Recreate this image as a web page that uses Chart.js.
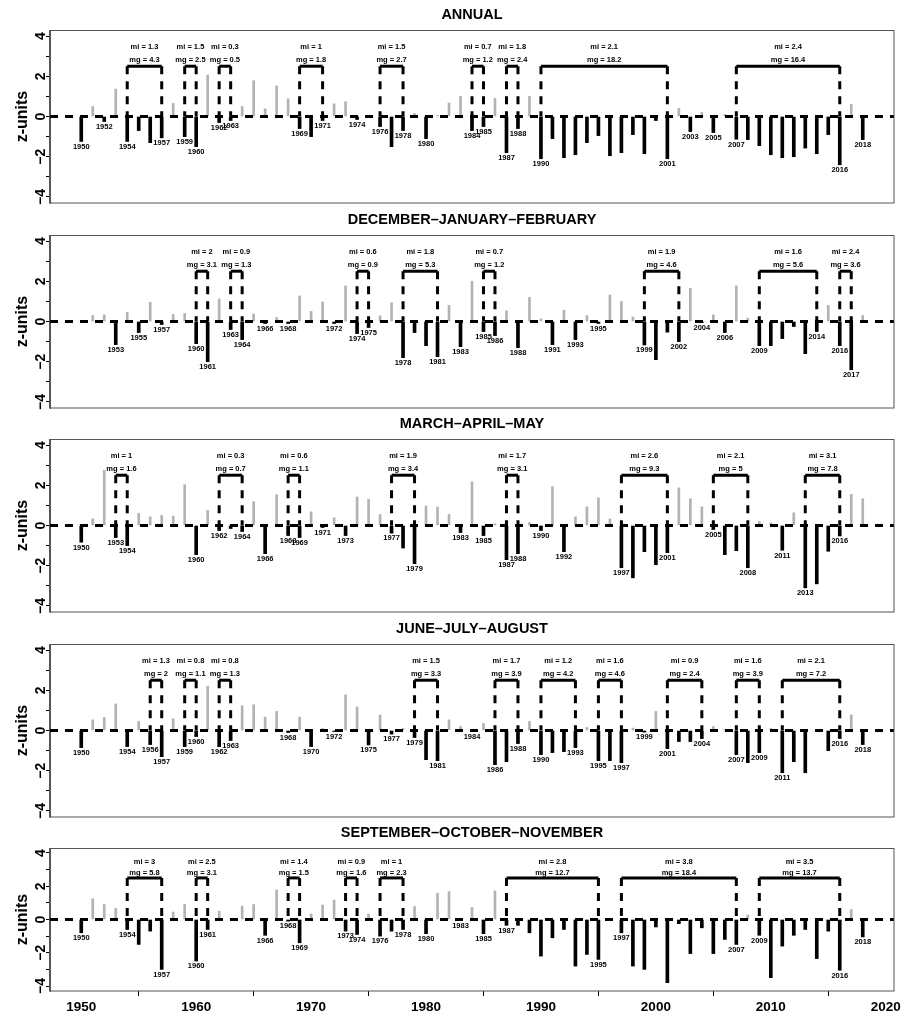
<!DOCTYPE html>
<html>
<head>
<meta charset="utf-8">
<title>Drought events z-units</title>
<script src="https://cdn.jsdelivr.net/npm/chart.js"></script>
<style>
  body { margin: 0; background: #fff; }
  #wrap { position: relative; width: 905px; height: 1017px; }
  .panel { position: absolute; left: 0; }
</style>
</head>
<body>
<div id="wrap">
  <div class="panel" style="top:0px"><canvas id="c0" width="905" height="205"></canvas></div>
  <div class="panel" style="top:205px"><canvas id="c1" width="905" height="205"></canvas></div>
  <div class="panel" style="top:409px"><canvas id="c2" width="905" height="205"></canvas></div>
  <div class="panel" style="top:614px"><canvas id="c3" width="905" height="205"></canvas></div>
  <div class="panel" style="top:818px"><canvas id="c4" width="905" height="199"></canvas></div>
</div>
<script>
// years of record
const years = [1950, 1951, 1952, 1953, 1954, 1955, 1956, 1957, 1958, 1959,
  1960, 1961, 1962, 1963, 1964, 1965, 1966, 1967, 1968, 1969,
  1970, 1971, 1972, 1973, 1974, 1975, 1976, 1977, 1978, 1979,
  1980, 1981, 1982, 1983, 1984, 1985, 1986, 1987, 1988, 1989,
  1990, 1991, 1992, 1993, 1994, 1995, 1996, 1997, 1998, 1999,
  2000, 2001, 2002, 2003, 2004, 2005, 2006, 2007, 2008, 2009,
  2010, 2011, 2012, 2013, 2014, 2015, 2016, 2017, 2018];

// z-unit values per season (one per year above)
const annual = [-1.24, 0.5, -0.25, 1.36, -1.24, -0.7, -1.3, -1.06, 0.65, -1.0,
  -1.5, 2.06, -0.3, -0.2, 0.5, 1.78, 0.38, 1.52, 0.88, -0.6,
  -1.0, -0.2, 0.63, 0.73, -0.15, 0.05, -0.5, -1.5, -0.7, 0.15,
  -1.1, 0.05, 0.67, 1.0, -0.7, -0.5, 0.9, -1.8, -0.6, 1.0,
  -2.1, -1.1, -2.05, -1.9, -1.3, -0.95, -1.95, -1.8, -0.9, -1.85,
  -0.2, -2.1, 0.4, -0.75, 0.2, -0.8, 0.1, -1.13, -1.15, -1.45,
  -1.9, -2.05, -2.0, -1.57, -1.85, -0.9, -2.4, 0.6, -1.15];

const djf = [0.05, 0.3, 0.33, -1.15, 0.46, -0.55, 0.95, -0.15, 0.35, 0.4,
  -1.1, -2.0, 1.12, -0.4, -0.9, 0.37, -0.1, 0.2, -0.1, 1.27,
  0.5, 0.97, -0.1, 1.77, -0.6, -0.3, 0.28, 0.93, -1.8, -0.55,
  -1.2, -1.75, 0.8, -1.25, 2.0, -0.5, -0.7, 0.53, -1.3, 1.2,
  0.13, -1.15, 0.56, -0.9, 0.3, -0.1, 1.32, 1.0, 0.23, -1.17,
  -1.9, -0.53, -1.0, 1.65, -0.05, 0.33, -0.55, 1.77, 0.17, -1.2,
  -1.2, -0.85, -0.25, -1.6, -0.5, 0.8, -1.2, -2.4, 0.3];

const mam = [-0.83, 0.33, 2.75, -0.6, -1.0, 0.6, 0.43, 0.5, 0.47, 2.03,
  -1.45, 0.75, -0.25, -0.15, -0.3, 1.18, -1.4, 1.53, -0.5, -0.6,
  0.68, -0.1, 0.38, -0.5, 1.42, 1.3, 0.55, -0.38, -1.12, -1.9,
  0.97, 0.92, 0.55, -0.35, 2.17, -0.5, 0.08, -1.7, -1.4, 0.15,
  -0.25, 1.93, -1.3, 0.43, 0.93, 1.37, 0.33, -2.1, -2.6, -1.3,
  -1.95, -1.35, 1.87, 1.33, 0.93, -0.2, -1.45, -1.25, -2.1, 0.2,
  0.13, -1.23, 0.63, -3.1, -2.9, -1.28, -0.52, 1.55, 1.33];

const jja = [-0.85, 0.53, 0.65, 1.32, -0.8, 0.45, -0.7, -1.3, 0.58, -0.8,
  -0.3, 2.2, -0.8, -0.5, 1.23, 1.28, 0.67, 0.95, -0.1, 0.67,
  -0.8, 0.1, -0.05, 1.77, 1.17, -0.72, 0.77, -0.18, 0.1, -0.35,
  -1.45, -1.5, 0.53, 0.2, -0.05, 0.35, -1.7, -1.55, -0.65, 0.45,
  -1.2, -1.1, -1.05, -0.85, 0.15, -1.5, -1.5, -1.6, 0.12, -0.08,
  0.95, -0.9, -0.55, -0.55, -0.4, 0.2, 0.05, -1.2, -1.6, -1.1,
  0.1, -2.1, -1.55, -2.1, -0.05, -1.0, -0.4, 0.78, -0.7];

const son = [-0.8, 1.25, 0.9, 0.67, -0.6, -1.5, -0.7, -3.0, 0.45, 0.92,
  -2.5, -0.6, 0.5, 0.05, 0.8, 0.9, -0.95, 1.78, -0.1, -1.4,
  0.33, 0.87, 1.17, -0.7, -0.9, 0.33, -1.0, -0.7, -0.6, 0.78,
  -0.85, 1.58, 1.68, -0.05, 0.73, -0.85, 1.72, -0.35, -0.35, -0.8,
  -2.2, -1.1, -0.6, -2.8, -2.1, -2.4, 0, -0.8, -2.8, -3.0,
  -0.45, -3.8, -0.25, -2.05, -0.5, -2.05, -1.2, -1.5, 0.27, -0.95,
  -3.5, -1.6, -0.95, -0.6, -2.35, -0.7, -3.05, 0.6, -1.05];

// years written under the bars
const annualLabels = [1950, 1952, 1954, 1957, 1959, 1960, 1962, 1963, 1969, 1971, 1974, 1976, 1978, 1980,
  1984, 1985, 1987, 1988, 1990, 2001, 2003, 2005, 2007, 2016, 2018];
const djfLabels = [1953, 1955, 1957, 1960, 1961, 1963, 1964, 1966, 1968, 1972, 1974, 1975, 1978, 1981,
  1983, 1985, 1986, 1988, 1991, 1993, 1995, 1999, 2002, 2004, 2006, 2009, 2014, 2016, 2017];
const mamLabels = [1950, 1953, 1954, 1960, 1962, 1964, 1966, 1968, 1969, 1971, 1973, 1977, 1979, 1983,
  1985, 1987, 1988, 1990, 1992, 1997, 2001, 2005, 2008, 2011, 2013, 2016];
const jjaLabels = [1950, 1954, 1956, 1957, 1959, 1960, 1962, 1963, 1968, 1970, 1972, 1975, 1977, 1979,
  1981, 1984, 1986, 1988, 1990, 1993, 1995, 1997, 1999, 2001, 2004, 2007, 2009, 2011, 2016, 2018];
const sonLabels = [1950, 1954, 1957, 1960, 1961, 1966, 1968, 1969, 1973, 1974, 1976, 1978, 1980, 1983,
  1985, 1987, 1995, 1997, 2007, 2009, 2016, 2018];

// drought events: [first year, last year, mi, mg]
const annualEvents = [[1954, 1957, 1.3, 4.3], [1959, 1960, 1.5, 2.5], [1962, 1963, 0.3, 0.5],
  [1969, 1971, 1, 1.8], [1976, 1978, 1.5, 2.7], [1984, 1985, 0.7, 1.2], [1987, 1988, 1.8, 2.4],
  [1990, 2001, 2.1, 18.2], [2007, 2016, 2.4, 16.4]];
const djfEvents = [[1960, 1961, 2, 3.1], [1963, 1964, 0.9, 1.3], [1974, 1975, 0.6, 0.9],
  [1978, 1981, 1.8, 5.3], [1985, 1986, 0.7, 1.2], [1999, 2002, 1.9, 4.6], [2009, 2014, 1.6, 5.6],
  [2016, 2017, 2.4, 3.6]];
const mamEvents = [[1953, 1954, 1, 1.6], [1962, 1964, 0.3, 0.7], [1968, 1969, 0.6, 1.1],
  [1977, 1979, 1.9, 3.4], [1987, 1988, 1.7, 3.1], [1997, 2001, 2.6, 9.3], [2005, 2008, 2.1, 5],
  [2013, 2016, 3.1, 7.8]];
const jjaEvents = [[1956, 1957, 1.3, 2], [1959, 1960, 0.8, 1.1], [1962, 1963, 0.8, 1.3],
  [1979, 1981, 1.5, 3.3], [1986, 1988, 1.7, 3.9], [1990, 1993, 1.2, 4.2], [1995, 1997, 1.6, 4.6],
  [2001, 2004, 0.9, 2.4], [2007, 2009, 1.6, 3.9], [2011, 2016, 2.1, 7.2]];
const sonEvents = [[1954, 1957, 3, 5.8], [1960, 1961, 2.5, 3.1], [1968, 1969, 1.4, 1.5],
  [1973, 1974, 0.9, 1.6], [1976, 1978, 1, 2.3], [1987, 1995, 2.8, 12.7], [1997, 2007, 3.8, 18.4],
  [2009, 2016, 3.5, 13.7]];

const yTicks = [-4, -3, -2, -1, 0, 1, 2, 3, 4];
const xTicks = [1950, 1960, 1970, 1980, 1990, 2000, 2010, 2020];

const panels = [
  { title: 'ANNUAL', values: annual, labels: annualLabels, events: annualEvents },
  { title: 'DECEMBER\u2013JANUARY\u2013FEBRUARY', values: djf, labels: djfLabels, events: djfEvents },
  { title: 'MARCH\u2013APRIL\u2013MAY', values: mam, labels: mamLabels, events: mamEvents },
  { title: 'JUNE\u2013JULY\u2013AUGUST', values: jja, labels: jjaLabels, events: jjaEvents },
  { title: 'SEPTEMBER\u2013OCTOBER\u2013NOVEMBER', values: son, labels: sonLabels, events: sonEvents }
];

const FONT = "'Liberation Sans', Arial, Helvetica, sans-serif";
const X_MIN = 1947.28, X_MAX = 2020.72;
const BRACKET_Y = 2.5, MI_Y = 3.45, MG_Y = 2.8;
const DASH = [8, 7];

function makeTextPlugin(p) {
    return {
        id: 'panelText',
        afterDraw(chart) {
            const { ctx, chartArea: a, scales: { x, y } } = chart;
            ctx.save();
            // plot box
            ctx.strokeStyle = '#555';
            ctx.lineWidth = 1;
            ctx.strokeRect(Math.round(a.left) - 0.5, Math.round(a.top) + 0.5,
                Math.round(a.right - a.left) + 0.5, Math.round(a.bottom - a.top) - 0.5);

            // title
            ctx.fillStyle = '#000';
            ctx.font = 'bold 14.5px ' + FONT;
            ctx.textAlign = 'center';
            ctx.textBaseline = 'middle';
            ctx.fillText(p.title, (a.left + a.right) / 2, 15);

            // year labels below bars
            ctx.font = 'bold 7.5px ' + FONT;
            ctx.textBaseline = 'top';
            p.labels.forEach(yr => {
                const v = p.values[years.indexOf(yr)];
                ctx.fillText(String(yr), x.getPixelForValue(yr), y.getPixelForValue(v) + 1.5);
            });

            // event annotations
            ctx.textBaseline = 'middle';
            p.events.forEach(ev => {
                const cx = x.getPixelForValue((ev[0] + ev[1]) / 2);
                ctx.fillText('mi = ' + ev[2], cx, y.getPixelForValue(MI_Y));
                ctx.fillText('mg = ' + ev[3], cx, y.getPixelForValue(MG_Y));
            });
            ctx.restore();
        }
    };
}

function buildChart(canvasId, p, isLast) {
    const neg = [], pos = [];
    years.forEach((yr, i) => {
        const v = p.values[i];
        if (v < 0) neg.push({ x: yr, y: v });
        else if (v > 0) pos.push({ x: yr, y: v });
    });

    const datasets = [
        { type: 'bar', data: pos, backgroundColor: '#b3b3b3', barThickness: 2, grouped: false, order: 6 },
        { type: 'bar', data: neg, backgroundColor: '#000', barThickness: 3, grouped: false, order: 5 },
        {
            type: 'line', data: [{ x: X_MIN, y: 0 }, { x: X_MAX, y: 0 }],
            borderColor: '#000', borderWidth: 3, borderDash: DASH, pointRadius: 0, order: 4
        }
    ];

    p.events.forEach(ev => {
        // dashed legs, drawn from the bracket down to zero
        datasets.push({
            type: 'line',
            data: [{ x: ev[0], y: BRACKET_Y }, { x: ev[0], y: 0 }, { x: (ev[0] + ev[1]) / 2, y: null },
                   { x: ev[1], y: BRACKET_Y }, { x: ev[1], y: 0 }],
            borderColor: '#000', borderWidth: 3, borderDash: DASH, pointRadius: 0, spanGaps: false, order: 3
        });
        // solid top
        datasets.push({
            type: 'line',
            data: [{ x: ev[0], y: BRACKET_Y }, { x: ev[1], y: BRACKET_Y }],
            borderColor: '#000', borderWidth: 3, pointRadius: 0, order: 2
        });
    });

    return new Chart(document.getElementById(canvasId), {
        type: 'bar',
        data: { datasets: datasets },
        options: {
            responsive: false,
            animation: false,
            devicePixelRatio: 1,
            layout: { padding: { top: 30, right: 11, bottom: isLast ? 0 : 2, left: 0 } },
            plugins: { legend: { display: false }, tooltip: { enabled: false } },
            scales: {
                x: {
                    type: 'linear',
                    min: X_MIN,
                    max: X_MAX,
                    offset: false,
                    display: isLast,
                    afterBuildTicks: s => { s.ticks = xTicks.map(v => ({ value: v })); },
                    afterFit: s => { s.height = isLast ? 26 : 0; },
                    ticks: {
                        autoSkip: false, maxRotation: 0, padding: 3, color: '#000',
                        font: { family: FONT, size: 13.5, weight: 'bold' },
                        callback: v => String(v)
                    },
                    grid: { drawOnChartArea: false, tickLength: 5, color: '#000' },
                    border: { display: false }
                },
                y: {
                    min: -4.3,
                    max: 4.3,
                    afterBuildTicks: s => { s.ticks = yTicks.map(v => ({ value: v })); },
                    afterFit: s => {
                        s.width = 50;
                        s.paddingTop = 0;
                        s.paddingBottom = 0;
                    },
                    ticks: {
                        autoSkip: false, minRotation: 90, maxRotation: 90, crossAlign: 'center',
                        padding: -3, color: '#000',
                        font: { family: FONT, size: 14, weight: 'bold' },
                        callback: v => (v % 2 === 0 ? String(v).replace('-', '\u2212') : '')
                    },
                    grid: { drawOnChartArea: false, tickLength: 4, color: '#000' },
                    border: { display: true, color: '#555' },
                    title: {
                        display: true, text: 'z-units', color: '#000',
                        font: { family: FONT, size: 16, weight: 'bold' },
                        padding: { top: 13, bottom: 0 }
                    }
                }
            }
        },
        plugins: [makeTextPlugin(p)]
    });
}

panels.forEach((p, i) => buildChart('c' + i, p, i === panels.length - 1));
</script>
</body>
</html>
